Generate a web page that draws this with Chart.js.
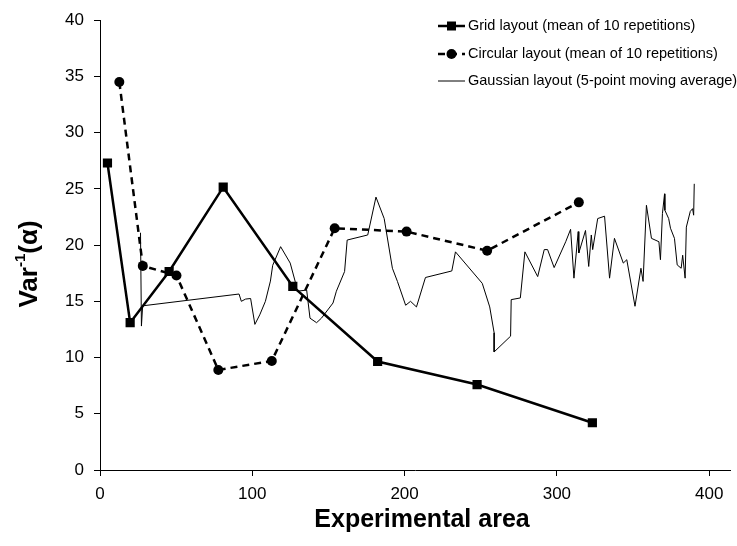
<!DOCTYPE html>
<html>
<head>
<meta charset="utf-8">
<script src="https://cdn.jsdelivr.net/npm/chart.js@4.4.0/dist/chart.umd.min.js"></script>
<style>
  html, body { margin: 0; padding: 0; background: #fff; }
  #wrap { width: 737px; height: 546px; }
</style>
</head>
<body>
<div id="wrap"><canvas id="chart" width="737" height="546"></canvas></div>
<script>
// values
const xTicks = [0, 100, 200, 300, 400]
const yTicks = [0, 5, 10, 15, 20, 25, 30, 35, 40]

const gridX = [4.9, 19.8, 45.4, 80.9, 126.6, 182.3, 247.6, 323.3]
const gridY = [27.3, 13.1, 17.65, 25.15, 16.33, 9.65, 7.6, 4.2]

const circX = [12.7, 28.1, 50.2, 77.7, 112.8, 154.1, 201.3, 254.2, 314.4]
const circY = [34.5, 18.15, 17.3, 8.9, 9.7, 21.5, 21.2, 19.5, 23.8]

const gaussX = [26.6, 27.2, 28.0, 91.3, 92.8, 95.6, 98.9, 101.7, 104.9, 108.6,
  111.9, 113.4, 118.6, 124.9, 128.1, 129.4, 135.7, 137.9, 142.2, 145.4,
  153, 155.2, 160.6, 162.3, 175.8, 181.2, 186.6, 192, 195.3, 200.7,
  203.9, 207.8, 213.7, 231, 233.4, 251, 255.9, 258.8, 258.8, 269.6,
  270, 276, 279, 287.4, 291.7, 293.9, 298.2, 305.8, 309, 311.2,
  314, 314.4, 318.8, 320.9, 322.6, 323.5, 326.8, 331.3, 334.6, 337.8,
  343.6, 345.9, 351.3, 355.2, 356.6, 358.8, 362.1, 367, 368, 369.3,
  370.7, 370.9, 373.4, 374.6, 377.2, 379, 381.6, 382.6, 384.2, 385,
  387.6, 389.1, 389.8, 390.2]
const gaussY = [21.1, 12.8, 14.6, 15.65, 15.0, 15.2, 15.25, 12.95, 13.8, 15.0,
  16.8, 18.2, 19.86, 18.4, 16.8, 15.9, 16.0, 13.5, 13.1, 13.5,
  14.85, 15.9, 17.65, 20.45, 20.9, 24.27, 22.36, 17.94, 16.77, 14.65,
  15.0, 14.5, 17.12, 17.7, 19.4, 16.6, 14.5, 12.2, 10.5, 11.9,
  15.15, 15.3, 19.4, 17.2, 19.6, 19.6, 18.0, 20.3, 21.4, 17.06,
  21.2, 19.3, 21.3, 18.1, 20.9, 19.6, 22.36, 22.57, 17.06, 20.6,
  18.4, 18.7, 14.56, 17.94, 16.77, 23.54, 20.6, 20.3, 18.7, 22.8,
  24.56, 23.1, 22.36, 21.5, 20.6, 18.24, 17.94, 19.1, 17.06, 21.6,
  23.0, 23.24, 22.66, 25.45]

const labels = [
  'Grid layout (mean of 10 repetitions)',
  'Circular layout (mean of 10 repetitions)',
  'Gaussian layout (5-point moving average)'
]

const FONT = '"Liberation Sans", Arial, sans-serif'

const toPoints = (xs, ys) => xs.map((x, i) => ({ x: x, y: ys[i] }))

// legend drawn inside the plot, top right
const legendBox = {
  id: 'legendBox',
  afterDraw(chart) {
    const c = chart.ctx
    const x0 = 438, x1 = 465
    const rows = [26, 54, 81]
    c.save()
    chart.data.datasets.forEach((ds, i) => {
      const y = rows[i]
      c.strokeStyle = '#000'
      c.lineWidth = ds.borderWidth
      c.setLineDash(ds.borderDash || [])
      c.beginPath()
      c.moveTo(x0, y)
      c.lineTo(x1, y)
      c.stroke()
      c.setLineDash([])
      c.fillStyle = '#000'
      const mx = (x0 + x1) / 2
      if (ds.pointStyle === 'rect') {
        c.fillRect(mx - 4.5, y - 4.5, 9, 9)
      } else if (ds.pointRadius > 0) {
        c.beginPath()
        c.arc(mx, y, 5, 0, Math.PI * 2)
        c.fill()
      }
      c.font = '14.5px ' + FONT
      c.textBaseline = 'middle'
      c.textAlign = 'left'
      c.fillText(ds.label, x1 + 3, y)
    })
    c.restore()
  }
}

// axis titles
const axisTitles = {
  id: 'axisTitles',
  afterDraw(chart) {
    const c = chart.ctx
    c.save()
    c.fillStyle = '#000'
    c.font = 'bold 25px ' + FONT
    c.textAlign = 'center'
    c.textBaseline = 'middle'
    c.fillText('Experimental area', 422, 520)

    // Var^-1(α), rotated
    c.translate(28, 264)
    c.rotate(-Math.PI / 2)
    const big = 'bold 26px ' + FONT
    const small = 'bold 15px ' + FONT
    c.font = big
    const w1 = c.measureText('Var').width
    const w3 = c.measureText('(α)').width
    c.font = small
    const w2 = c.measureText('-1').width
    let x = -(w1 + w2 + w3) / 2
    c.textAlign = 'left'
    c.textBaseline = 'alphabetic'
    c.font = big
    c.fillText('Var', x, 9)
    x += w1
    c.font = small
    c.fillText('-1', x, -3)
    x += w2
    c.font = big
    c.fillText('(α)', x, 9)
    c.restore()
  }
}

const ctx = document.getElementById('chart')
new Chart(ctx, {
  type: 'scatter',
  data: {
    datasets: [
      {
        label: labels[0],
        data: toPoints(gridX, gridY),
        showLine: true,
        borderColor: '#000',
        backgroundColor: '#000',
        borderWidth: 2.5,
        pointStyle: 'rect',
        pointRadius: 6.5,
        pointBorderWidth: 0,
        tension: 0
      },
      {
        label: labels[1],
        data: toPoints(circX, circY),
        showLine: true,
        borderColor: '#000',
        backgroundColor: '#000',
        borderWidth: 2.5,
        borderDash: [7, 5],
        pointStyle: 'circle',
        pointRadius: 5,
        pointBorderWidth: 0,
        tension: 0
      },
      {
        label: labels[2],
        data: toPoints(gaussX, gaussY),
        showLine: true,
        borderColor: '#000',
        backgroundColor: '#000',
        borderWidth: 1,
        pointRadius: 0,
        tension: 0
      }
    ]
  },
  options: {
    responsive: false,
    animation: false,
    layout: { padding: { top: 17, right: 0, left: 0, bottom: 0 } },
    plugins: {
      legend: { display: false },
      tooltip: { enabled: false }
    },
    scales: {
      x: {
        type: 'linear',
        min: 0,
        max: 414,
        afterBuildTicks: s => { s.ticks = xTicks.map(v => ({ value: v })) },
        afterFit: s => { s.height = 76 },
        grid: { drawOnChartArea: false, tickLength: 6, color: '#000' },
        border: { color: '#000', width: 1 },
        ticks: { color: '#000', font: { family: FONT, size: 17 }, padding: 8, maxRotation: 0 }
      },
      y: {
        type: 'linear',
        min: 0,
        max: 40,
        afterBuildTicks: s => { s.ticks = yTicks.map(v => ({ value: v })) },
        afterFit: s => { s.width = 100 },
        grid: { drawOnChartArea: false, tickLength: 6, color: '#000' },
        border: { color: '#000', width: 1 },
        ticks: { color: '#000', font: { family: FONT, size: 17 }, padding: 10 }
      }
    }
  },
  plugins: [legendBox, axisTitles]
})
</script>
</body>
</html>
